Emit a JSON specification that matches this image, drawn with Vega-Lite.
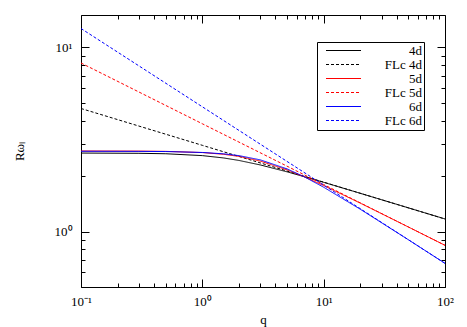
{
  "$schema": "https://vega.github.io/schema/vega-lite/v6.json",
  "width": 364,
  "height": 272,
  "autosize": "none",
  "padding": {"left": 81, "top": 15, "right": 22, "bottom": 40},
  "background": "white",
  "config": {
    "font": "Liberation Serif, Times New Roman, serif",
    "view": {"stroke": "black", "strokeWidth": 1},
    "axis": {
      "grid": false,
      "domain": false,
      "ticks": true,
      "zindex": 2,
      "tickColor": "black",
      "tickOpacity": 1,
      "tickWidth": 1,
      "labelColor": "black",
      "labelFont": "Liberation Serif, Times New Roman, serif",
      "labelFontSize": 13,
      "titleFont": "Liberation Serif, Times New Roman, serif",
      "titleFontSize": 13,
      "titleFontWeight": "normal",
      "titleColor": "black"
    },
    "legend": {
      "labelFont": "Liberation Serif, Times New Roman, serif",
      "labelFontSize": 13,
      "labelColor": "black"
    }
  },
  "data": {
    "values": [
      {"series": "4d", "q": 0.1, "y": 2.669},
      {"series": "4d", "q": 0.3, "y": 2.661},
      {"series": "4d", "q": 0.5, "y": 2.646},
      {"series": "4d", "q": 1, "y": 2.585},
      {"series": "4d", "q": 1.5, "y": 2.51},
      {"series": "4d", "q": 2, "y": 2.434},
      {"series": "4d", "q": 3, "y": 2.301},
      {"series": "4d", "q": 5, "y": 2.11},
      {"series": "4d", "q": 7, "y": 1.982},
      {"series": "4d", "q": 10, "y": 1.851},
      {"series": "4d", "q": 20, "y": 1.614},
      {"series": "4d", "q": 50, "y": 1.345},
      {"series": "4d", "q": 100, "y": 1.171},
      {"series": "FLc 4d", "q": 0.1, "y": 4.66},
      {"series": "FLc 4d", "q": 1, "y": 2.94},
      {"series": "FLc 4d", "q": 10, "y": 1.855},
      {"series": "FLc 4d", "q": 100, "y": 1.17},
      {"series": "5d", "q": 0.1, "y": 2.739},
      {"series": "5d", "q": 0.3, "y": 2.735},
      {"series": "5d", "q": 0.5, "y": 2.726},
      {"series": "5d", "q": 1, "y": 2.686},
      {"series": "5d", "q": 1.5, "y": 2.628},
      {"series": "5d", "q": 2, "y": 2.56},
      {"series": "5d", "q": 3, "y": 2.415},
      {"series": "5d", "q": 5, "y": 2.163},
      {"series": "5d", "q": 7, "y": 1.976},
      {"series": "5d", "q": 10, "y": 1.778},
      {"series": "5d", "q": 20, "y": 1.428},
      {"series": "5d", "q": 50, "y": 1.058},
      {"series": "5d", "q": 100, "y": 0.842},
      {"series": "FLc 5d", "q": 0.1, "y": 8.23},
      {"series": "FLc 5d", "q": 1, "y": 3.85},
      {"series": "FLc 5d", "q": 10, "y": 1.801},
      {"series": "FLc 5d", "q": 100, "y": 0.842},
      {"series": "6d", "q": 0.1, "y": 2.73},
      {"series": "6d", "q": 0.3, "y": 2.726},
      {"series": "6d", "q": 0.5, "y": 2.72},
      {"series": "6d", "q": 1, "y": 2.689},
      {"series": "6d", "q": 1.5, "y": 2.643},
      {"series": "6d", "q": 2, "y": 2.585},
      {"series": "6d", "q": 3, "y": 2.452},
      {"series": "6d", "q": 5, "y": 2.189},
      {"series": "6d", "q": 7, "y": 1.976},
      {"series": "6d", "q": 10, "y": 1.741},
      {"series": "6d", "q": 20, "y": 1.323},
      {"series": "6d", "q": 50, "y": 0.902},
      {"series": "6d", "q": 100, "y": 0.672},
      {"series": "FLc 6d", "q": 0.1, "y": 12.67},
      {"series": "FLc 6d", "q": 1, "y": 4.76},
      {"series": "FLc 6d", "q": 10, "y": 1.789},
      {"series": "FLc 6d", "q": 100, "y": 0.672}
    ]
  },
  "layer": [
    {
      "mark": {"type": "line", "strokeWidth": 1, "clip": true},
      "encoding": {
        "x": {
          "field": "q", "type": "quantitative",
          "scale": {"type": "log", "domain": [0.1, 100], "nice": false},
          "axis": {
            "orient": "bottom",
            "title": "q",
            "titlePadding": 1,
            "values": [0.1,0.2,0.3,0.4,0.5,0.6,0.7,0.8,0.9,1,2,3,4,5,6,7,8,9,10,20,30,40,50,60,70,80,90,100],
            "labelExpr": "datum.value == 0.1 ? '10⁻¹' : datum.value == 1 ? '10⁰' : datum.value == 10 ? '10¹' : datum.value == 100 ? '10²' : ''",
            "tickSize": {"condition": {"test": "datum.value == 0.1 || datum.value == 1 || datum.value == 10 || datum.value == 100", "value": -8}, "value": -4},
            "labelPadding": 16,
            "labelOverlap": false,
            "labelFlush": false
          }
        },
        "y": {
          "field": "y", "type": "quantitative",
          "scale": {"type": "log", "domain": [0.5, 15], "nice": false},
          "axis": {
            "orient": "left",
            "title": "Rωₗ",
            "titlePadding": 28,
            "values": [0.5,0.6,0.7,0.8,0.9,1,2,3,4,5,6,7,8,9,10],
            "labelExpr": "datum.value == 1 ? '10⁰' : datum.value == 10 ? '10¹' : ''",
            "tickSize": {"condition": {"test": "datum.value == 1 || datum.value == 10", "value": -8}, "value": -4},
            "labelPadding": 17,
            "labelOverlap": false,
            "labelFlush": false
          }
        },
        "color": {
          "field": "series", "type": "nominal",
          "scale": {
            "domain": ["4d", "FLc 4d", "5d", "FLc 5d", "6d", "FLc 6d"],
            "range": ["#000000", "#000000", "#ff0000", "#ff0000", "#0000ff", "#0000ff"]
          },
          "legend": {
            "title": null,
            "orient": "none",
            "legendX": 236,
            "legendY": 27,
            "symbolType": "M-3.5,0H3.5",
            "symbolSize": 100,
            "symbolStrokeWidth": 1,
            "labelAlign": "right",
            "labelOffset": 72,
            "strokeColor": "black",
            "fillColor": "white",
            "padding": 2,
            "rowPadding": 0,
            "symbolOffset": 18
          }
        },
        "strokeDash": {
          "field": "series", "type": "nominal",
          "scale": {
            "domain": ["4d", "FLc 4d", "5d", "FLc 5d", "6d", "FLc 6d"],
            "range": [[1, 0], [3, 2], [1, 0], [3, 2], [1, 0], [3, 2]]
          },
          "legend": {
            "title": null,
            "orient": "none",
            "legendX": 236,
            "legendY": 27,
            "symbolType": "M-3.5,0H3.5",
            "symbolSize": 100,
            "symbolStrokeWidth": 1,
            "labelAlign": "right",
            "labelOffset": 72,
            "strokeColor": "black",
            "fillColor": "white",
            "padding": 2,
            "rowPadding": 0,
            "symbolOffset": 18
          }
        }
      }
    },
    {
      "mark": {"type": "point", "opacity": 0},
      "encoding": {
        "x": {
          "field": "q", "type": "quantitative",
          "scale": {"type": "log", "domain": [0.1, 100], "nice": false},
          "axis": {
            "orient": "top",
            "title": null,
            "labels": false,
            "values": [0.1,0.2,0.3,0.4,0.5,0.6,0.7,0.8,0.9,1,2,3,4,5,6,7,8,9,10,20,30,40,50,60,70,80,90,100],
            "tickSize": {"condition": {"test": "datum.value == 0.1 || datum.value == 1 || datum.value == 10 || datum.value == 100", "value": -8}, "value": -4}
          }
        },
        "y": {
          "field": "y", "type": "quantitative",
          "scale": {"type": "log", "domain": [0.5, 15], "nice": false},
          "axis": {
            "orient": "right",
            "title": null,
            "labels": false,
            "values": [0.5,0.6,0.7,0.8,0.9,1,2,3,4,5,6,7,8,9,10],
            "tickSize": {"condition": {"test": "datum.value == 1 || datum.value == 10", "value": -8}, "value": -4}
          }
        }
      }
    }
  ],
  "resolve": {"axis": {"x": "independent", "y": "independent"}}
}
